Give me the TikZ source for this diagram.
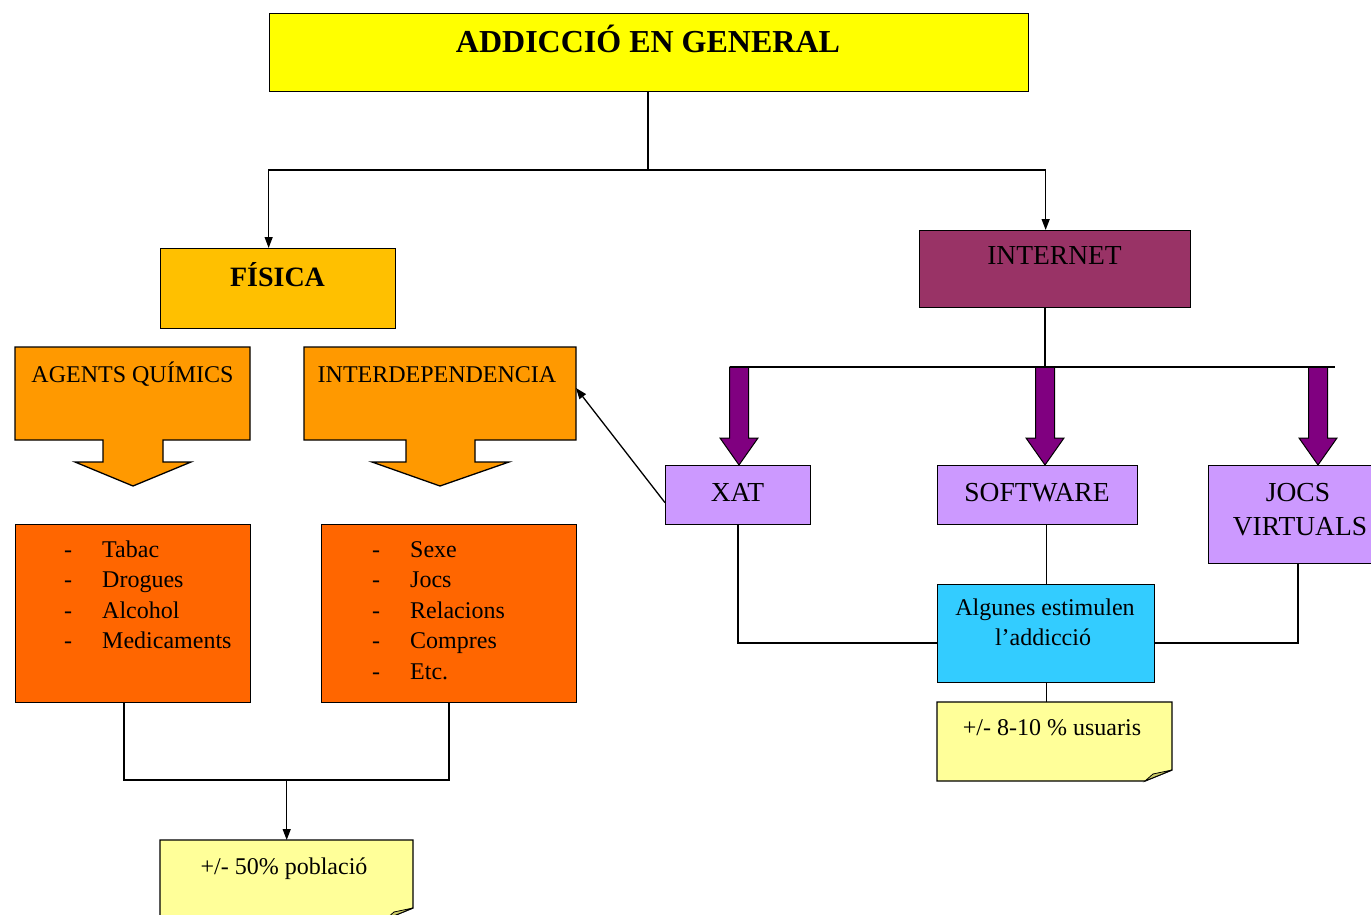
\documentclass[tikz,border=0pt]{standalone}
\usepackage{fontspec}
\setmainfont{Liberation Serif}
\usetikzlibrary{arrows.meta,calc}
\definecolor{cTitle}{HTML}{FFFF00}
\definecolor{cFis}{HTML}{FFC000}
\definecolor{cCall}{HTML}{FF9900}
\definecolor{cList}{HTML}{FF6600}
\definecolor{cNet}{HTML}{993366}
\definecolor{cLil}{HTML}{CC99FF}
\definecolor{cPur}{HTML}{800080}
\definecolor{cCyan}{HTML}{33CCFF}
\definecolor{cNote}{HTML}{FFFF99}
\definecolor{cFold}{HTML}{CCCC66}
\begin{document}
\begin{tikzpicture}[x=1pt,y=-1pt,
  box/.style={draw=black, line width=1.3pt, inner sep=0pt, anchor=north west},
  ghost/.style={inner sep=0pt, anchor=north west},
  shp/.style={draw=black, line width=1.3pt, line join=miter},
  conn/.style={draw=black, line width=1.3pt},
  arr/.style={conn, -{Triangle[length=11pt,width=8pt]}},
  txt/.style={inner sep=0pt, anchor=base, font=\fontsize{24}{28}\selectfont},
  txtb/.style={inner sep=0pt, anchor=base, font=\fontsize{27.5}{30}\selectfont},
]
\useasboundingbox (0,0) rectangle (1371,915);
\fill[white] (0,0) rectangle (1371,915);

% ---- boxes ----
\node[box, fill=cTitle, minimum width=759pt, minimum height=78pt] (title) at (269,13) {};
\node[txt, font=\fontsize{32}{36}\selectfont\bfseries] (titletxt) at (648,53) {ADDICCIÓ EN GENERAL};

\node[box, fill=cFis, minimum width=235pt, minimum height=80pt] (fisica) at (160,248) {};
\node[txt, font=\fontsize{28}{32}\selectfont\bfseries] (fisicatxt) at (277.5,286) {FÍSICA};

\node[box, fill=cNet, minimum width=271pt, minimum height=77pt] (internet) at (919,230) {};
\node[txtb] (internettxt) at (1054.5,264) {INTERNET};

% callouts
\draw[shp, fill=cCall] (15,347) -- (250,347) -- (250,440) -- (163,440) -- (163,462) -- (191,462)
  -- (133,486) -- (75,462) -- (103,462) -- (103,440) -- (15,440) -- cycle;
\node[ghost, minimum width=235pt, minimum height=93pt] (agents) at (15,347) {};
\node[txt] (agentstxt) at (132.5,382) {AGENTS QUÍMICS};

\draw[shp, fill=cCall] (304,347) -- (576,347) -- (576,440) -- (475,440) -- (475,462) -- (509,462)
  -- (440,486) -- (372,462) -- (406,462) -- (406,440) -- (304,440) -- cycle;
\node[ghost, minimum width=272pt, minimum height=93pt] (interdep) at (304,347) {};
\node[txt] (interdeptxt) at (437,382) {INTERDEPENDENCIA};
\coordinate (interdepE) at (576,388);

% lists
\node[box, fill=cList, minimum width=235pt, minimum height=178pt] (tabacbox) at (15,524) {};
\foreach \t [count=\i] in {Tabac,Drogues,Alcohol,Medicaments}{
  \node[txt] (ld\i) at (68,{557+30.5*(\i-1)}) {-};
  \node[txt, anchor=base west] (lt\i) at (102,{557+30.5*(\i-1)}) {\t};
}
\node[box, fill=cList, minimum width=255pt, minimum height=178pt] (sexebox) at (321,524) {};
\foreach \t [count=\i] in {Sexe,Jocs,Relacions,Compres,Etc.}{
  \node[txt] (rd\i) at (376,{557+30.5*(\i-1)}) {-};
  \node[txt, anchor=base west] (rt\i) at (410,{557+30.5*(\i-1)}) {\t};
}

% note 50%
\draw[shp, fill=cNote] (160,840) -- (413,840) -- (413,908) -- (386,919) -- (160,919) -- cycle;
\draw[shp, fill=cFold, line width=0.8pt] (386,919) -- (394,912) -- (413,908) -- cycle;
\node[ghost, minimum width=253pt, minimum height=79pt] (note50) at (160,840) {};
\node[txt] (note50txt) at (284,874) {+/- 50\% població};

% internet side
\node[box, fill=cLil, minimum width=145pt, minimum height=59pt] (xat) at (665,465) {};
\node[txtb] (xattxt) at (737.5,501) {XAT};
\node[box, fill=cLil, minimum width=200pt, minimum height=59pt] (soft) at (937,465) {};
\node[txtb] (softtxt) at (1037,501) {SOFTWARE};
\node[box, fill=cLil, minimum width=182pt, minimum height=98pt] (jocs) at (1208,465) {};
\node[txtb] (jocstxt1) at (1298,501) {JOCS};
\node[txtb] (jocstxt2) at (1300,535) {VIRTUALS};

\node[box, fill=cCyan, minimum width=217pt, minimum height=98pt] (alg) at (937,584) {};
\node[txt] (algtxt1) at (1045,615) {Algunes estimulen};
\node[txt] (algtxt2) at (1043,645) {l’addicció};

\draw[shp, fill=cNote] (937,702) -- (1172,702) -- (1172,770) -- (1145,781) -- (937,781) -- cycle;
\draw[shp, fill=cFold, line width=0.8pt] (1145,781) -- (1153,774) -- (1172,770) -- cycle;
\node[ghost, minimum width=235pt, minimum height=79pt] (note810) at (937,702) {};
\node[txt] (note810txt) at (1052,735) {+/- 8-10 \% usuaris};

% ---- connectors ----
\coordinate (t1) at (648,170);
\draw[conn] (t1 |- title.south) -- (t1);
\draw[arr] (t1) -| ([xshift=-9.5pt]fisica.north);
\draw[arr] (t1) -| ([xshift=-9.5pt]internet.north);

\coordinate (h0) at (1045,367);
\coordinate (hl) at (730,367);
\coordinate (hr) at (1335,367);
\foreach \cx/\nm in {739/xat,1045/soft,1318/jocs}{
  \draw[shp, fill=cPur, line width=1pt] (\cx-9.5,367) -- (\cx+9.5,367) -- (\cx+9.5,438) -- (\cx+19,438)
    -- (\cx,465) -- (\cx-19,438) -- (\cx-9.5,438) -- cycle;
}
\draw[conn] (h0 |- internet.south) -- (h0);
\draw[conn] (hl) -- (hr);

\draw[arr] ($(xat.west)+(0,7.5)$) -- (interdepE);

\coordinate (a1) at (738,643);
\coordinate (a2) at (1298,643);
\draw[conn] (xat.south -| a1) -- (a1) -- (a1 -| alg.west);
\draw[conn] (jocs.south -| a2) -- (a2) -- (a2 -| alg.east);
\draw[conn] (alg.north |- soft.south) -- (alg.north);
\draw[conn] (alg.south) -- (alg.south |- note810.north);

\coordinate (j1) at (124,780);
\coordinate (j2) at (449,780);
\draw[conn] (tabacbox.south -| j1) -- (j1) -- (j2) -- (sexebox.south -| j2);
\draw[arr] (note50.north |- j1) -- (note50.north);
\end{tikzpicture}
\end{document}
